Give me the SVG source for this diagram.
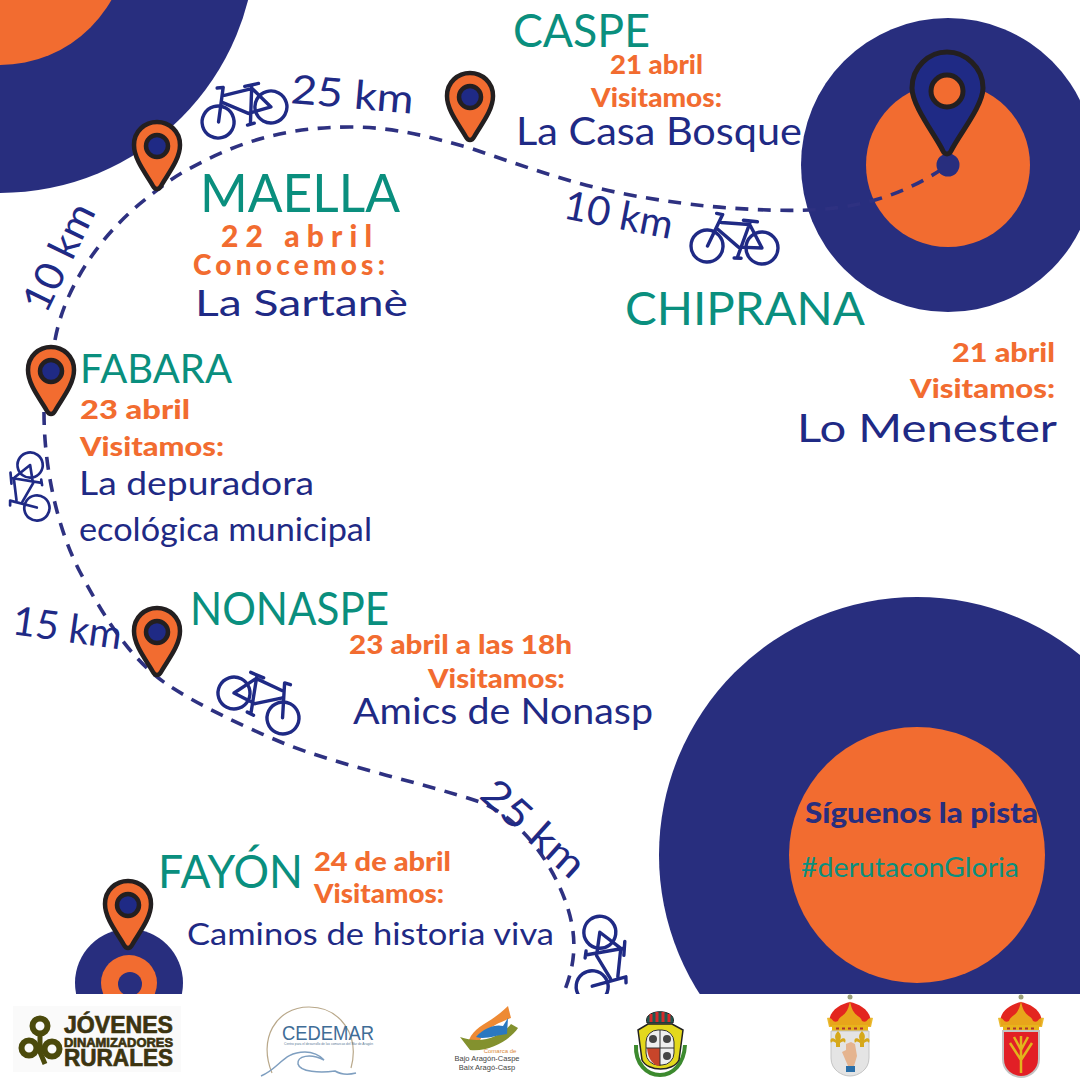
<svg xmlns="http://www.w3.org/2000/svg" width="1080" height="1080" viewBox="0 0 1080 1080">
<style>
.navy{fill:#282e7e}.org{fill:#f26c30}
.route{fill:none;stroke:#2e3181;stroke-width:3.6;stroke-dasharray:13 9.5}
.hand{font-family:"Lato","Open Sans",sans-serif;fill:#1f2a85}
.city{font-family:"Lato","Open Sans",sans-serif;fill:#0a8f7e}
.date{font-family:"Lato","Liberation Sans",sans-serif;font-weight:900;fill:#f26c30;font-size:27px}
.pin{fill:#f26c30;stroke:#231f20;stroke-width:4.5;stroke-linejoin:round}
.eye{fill:#1f2a85;stroke:#231f20;stroke-width:4.5}
.bk{fill:none;stroke:#1f2a85;stroke-width:3.4;stroke-linecap:round;stroke-linejoin:round}
.crown{fill:#e8b41b}.red{fill:#e3261f}.logo{font-family:"Liberation Sans",sans-serif}
</style>
<defs>
<g id="bike" class="bk">
<circle cx="-27.5" cy="0" r="16"/><circle cx="27.5" cy="0" r="16"/>
<path d="M-27 0L-13 -32L-19 -33M-14 -24L14 -23M-17 -17L4 0M3 11L15 -26M8 -27L22 -26M4 0L27.500 0L15 -22M0 11L7 11"/>
</g>
<g id="pinShape"><path class="pin" d="M-4 31C-10 20 -23 5 -23 -10C-23 -24 -12 -33 0 -33C12 -33 23 -24 23 -10C23 5 10 20 4 31C2 35 -2 35 -4 31Z"/><circle class="eye" cx="0" cy="-9" r="11"/></g>
<g id="fleur"><path d="M0 -9C4 -5 3 -2 2 0C5 -3 9 -2 7 3C6 1 4 1 2 3V7H-2V3C-4 1 -6 1 -7 3C-9 -2 -5 -3 -2 0C-3 -2 -4 -5 0 -9Z" fill="#d6a81a"/></g>
<g id="crownShape"><path class="red" d="M-20 16C-24 2 -10 -6 0 -8C10 -6 24 2 20 16Z"/><path class="crown" d="M-21 17L-23 8C-17 6 -18 14 -12 11C-10 4 -3 8 0 -9C3 8 10 4 12 11C18 14 17 6 23 8L21 17Z" opacity=".9"/><rect class="crown" x="-18" y="15" width="36" height="7"/><circle cx="0" cy="-13" r="2.500" fill="#9aa07a"/><path d="M-14 18.500H14" stroke="#a33" stroke-width="2" stroke-dasharray="3 3"/></g>
</defs>
<rect width="1080" height="1080" fill="#fff"/>
<circle class="navy" cx="0" cy="-63" r="256"/>
<circle class="org" cx="0" cy="-63" r="128"/>
<circle class="navy" cx="948" cy="165" r="147"/>
<circle class="org" cx="948" cy="165" r="82"/>
<circle class="navy" cx="917" cy="855" r="258"/>
<circle class="org" cx="917" cy="855" r="128"/>
<circle class="navy" cx="129" cy="983" r="54"/>
<circle class="org" cx="129" cy="983" r="28"/>
<circle class="navy" cx="130" cy="984" r="12"/>
<g id="connectors">
<path class="route" d="M44 412C44 470 58 530 80 572C95 600 108 622 122 640C135 657 150 673 168 685C195 703 240 725 283 743C340 766 420 782 480 802C520 818 550 860 565 900C576 930 578 958 564 992"/>
<path class="route" d="M55 340C66 280 108 228 147 198C160 188 172 178 187 170C232 145 280 127 350 127C395 127 430 137 470 148C520 165 570 183 620 193C660 201 700 206 730 208C760 210 785 211 810 210C860 208 905 195 948 165"/>
</g>
<circle class="navy" cx="948" cy="165" r="11.500"/>
<use href="#bike" transform="translate(244.5 114.500) rotate(-16)"/>
<use href="#bike" transform="translate(734.5 247) rotate(2)"/>
<use href="#bike" transform="translate(33.5 486.500) rotate(-99) scale(.79)"/>
<use href="#bike" transform="translate(258.5 705.500) rotate(27) scale(-1 1)"/>
<use href="#bike" transform="translate(596 959.500) rotate(-82) scale(1 -1)"/>
<g id="node-maella"><use href="#pinShape" transform="translate(157 155)"/>
<text class="city" x="200" y="212" font-size="53" textLength="200" lengthAdjust="spacingAndGlyphs">MAELLA</text>
<text class="date" x="221" y="247" style="font-size:30px" textLength="151">22 abril</text>
<text class="date" x="193" y="275" style="font-size:28px" textLength="192">Conocemos:</text>
<text class="hand" x="195" y="316" font-size="36" textLength="213" lengthAdjust="spacingAndGlyphs">La Sartanè</text></g>
<g id="node-caspe"><use href="#pinShape" transform="translate(470 106)"/>
<text class="city" x="513" y="47" font-size="46" textLength="137" lengthAdjust="spacingAndGlyphs">CASPE</text>
<text class="date" x="610" y="74" textLength="93" lengthAdjust="spacingAndGlyphs">21 abril</text>
<text class="date" x="591" y="107" textLength="131" lengthAdjust="spacingAndGlyphs">Visitamos:</text>
<text class="hand" x="516" y="145" font-size="38" textLength="286" lengthAdjust="spacingAndGlyphs">La Casa Bosque</text></g>
<g id="node-chiprana"><path style="fill:#1f2a85;stroke:#231f20;stroke-width:5;stroke-linejoin:round" d="M943 151C936 136 912 106 912 88C912 67 929 52 947 52C965 52 983 67 983 88C983 106 958 136 951 151C949 155 945 155 943 151Z"/><circle class="org" style="stroke:#231f20;stroke-width:5" cx="947" cy="91" r="16"/>
<text class="city" x="625" y="325" font-size="46" textLength="240" lengthAdjust="spacingAndGlyphs">CHIPRANA</text>
<text class="date" x="952" y="362" textLength="103" lengthAdjust="spacingAndGlyphs">21 abril</text>
<text class="date" x="910" y="398" textLength="145" lengthAdjust="spacingAndGlyphs">Visitamos:</text>
<text class="hand" x="797" y="442" font-size="38" textLength="260" lengthAdjust="spacingAndGlyphs">Lo Menester</text></g>
<g id="node-fabara"><use href="#pinShape" transform="translate(51 380)"/>
<text class="city" x="80" y="383" font-size="41" textLength="152" lengthAdjust="spacingAndGlyphs">FABARA</text>
<text class="date" x="80" y="419" textLength="110" lengthAdjust="spacingAndGlyphs">23 abril</text>
<text class="date" x="80" y="456" textLength="144" lengthAdjust="spacingAndGlyphs">Visitamos:</text>
<text class="hand" x="79" y="495" font-size="33" textLength="235" lengthAdjust="spacingAndGlyphs">La depuradora</text>
<text class="hand" x="79" y="541" font-size="33" textLength="293" lengthAdjust="spacingAndGlyphs">ecológica municipal</text></g>
<g id="node-nonaspe"><use href="#pinShape" transform="translate(157 641)"/>
<text class="city" x="190" y="625" font-size="46" textLength="199" lengthAdjust="spacingAndGlyphs">NONASPE</text>
<text class="date" x="349" y="654" textLength="223" lengthAdjust="spacingAndGlyphs">23 abril a las 18h</text>
<text class="date" x="428" y="688" textLength="137" lengthAdjust="spacingAndGlyphs">Visitamos:</text>
<text class="hand" x="353" y="724" font-size="36" textLength="300" lengthAdjust="spacingAndGlyphs">Amics de Nonasp</text></g>
<g id="node-fayon"><use href="#pinShape" transform="translate(128 914)"/>
<text class="city" x="158" y="888" font-size="47" textLength="145" lengthAdjust="spacingAndGlyphs">FAYÓN</text>
<text class="date" x="314" y="871" textLength="137" lengthAdjust="spacingAndGlyphs">24 de abril</text>
<text class="date" x="314" y="903" textLength="130" lengthAdjust="spacingAndGlyphs">Visitamos:</text>
<text class="hand" x="187" y="945" font-size="30" textLength="367" lengthAdjust="spacingAndGlyphs">Caminos de historia viva</text></g>
<g id="distances" class="hand" font-size="40">
<text x="290" y="103" transform="rotate(5 290 103)" textLength="123" lengthAdjust="spacingAndGlyphs">25 km</text>
<text x="562" y="218" transform="rotate(11 562 218)" textLength="110" lengthAdjust="spacingAndGlyphs">10 km</text>
<text x="46" y="315" transform="rotate(-64 46 315)" textLength="115" lengthAdjust="spacingAndGlyphs">10 km</text>
<text x="11" y="634" transform="rotate(8 11 634)" textLength="110" lengthAdjust="spacingAndGlyphs">15 km</text>
<text x="478" y="797" transform="rotate(42 478 797)" textLength="125" lengthAdjust="spacingAndGlyphs">25 km</text>
</g>
<g id="cta">
<text x="805" y="823" font-family="Lato,sans-serif" font-weight="900" font-size="28" fill="#282e7e" textLength="233" lengthAdjust="spacingAndGlyphs">Síguenos la pista</text>
<text x="801" y="877" font-family="Lato,sans-serif" font-size="26" fill="#0a8f7e" textLength="218" lengthAdjust="spacingAndGlyphs">#derutaconGloria</text>
</g>
<rect x="0" y="994" width="1080" height="86" fill="#fff"/>
<g id="logos">
<g id="logo-jdr"><rect x="13" y="1006" width="168" height="66" fill="#fafafa"/>
<g fill="none" stroke="#4b4a0c" stroke-width="6"><circle cx="40" cy="1026" r="7.500"/><circle cx="29" cy="1048" r="7.500"/><circle cx="52" cy="1049" r="7.500"/></g><path d="M40 1036V1052L45 1064" fill="none" stroke="#4b4a0c" stroke-width="5"/>
<g class="logo" font-weight="700" fill="#3c3410" stroke="#3c3410" stroke-width=".7">
<text x="64" y="1033" font-size="23" textLength="109" lengthAdjust="spacingAndGlyphs">JÓVENES</text>
<text x="64" y="1046.500" font-size="13" textLength="109" lengthAdjust="spacingAndGlyphs">DINAMIZADORES</text>
<text x="64" y="1066" font-size="23" textLength="109" lengthAdjust="spacingAndGlyphs">RURALES</text></g></g>
<g id="logo-cedemar"><path d="M272 1073C258 1040 275 1007 309 1007C340 1007 360 1035 351 1068" fill="none" stroke="#b9a88a" stroke-width="1.200"/>
<text class="logo" x="282" y="1040" font-size="20" fill="#3f6d97" textLength="92" lengthAdjust="spacingAndGlyphs">CEDEMAR</text>
<text class="logo" x="284" y="1045" font-size="3.500" fill="#5a7a98" textLength="89" lengthAdjust="spacingAndGlyphs">Centro para el desarrollo de las comarcas del Mar de Aragón</text>
<path d="M261 1076C280 1068 283 1052 305 1052C312 1052 320 1055 324 1060C310 1053 297 1056 298 1064C300 1072 320 1073 335 1071C340 1074 348 1075 356 1073" fill="none" stroke="#7f9fc0" stroke-width="1.500"/></g>
<g id="logo-comarca"><path d="M469 1040C475 1025 490 1024 508 1006L511 1018C495 1024 482 1030 478 1046Z" fill="#ee8a34"/>
<path d="M460 1037L470 1050C490 1052 510 1040 518 1028L511 1024C500 1038 480 1044 460 1037Z" fill="#83912e"/>
<path d="M476 1037C484 1028 495 1024 503 1026L508 1018L507 1034C497 1035 485 1040 476 1037Z" fill="#2a78c0"/>
<g class="logo" fill="#444" text-anchor="middle"><text x="500" y="1053" font-size="6" fill="#d98a3a">Comarca de</text><text x="487" y="1061" font-size="7.500">Bajo Aragón-Caspe</text><text x="487" y="1070" font-size="7.500">Baix Aragó-Casp</text></g></g>
<g id="crest1"><path d="M636 1045C635 1064 647 1075 660 1075C673 1075 684 1064 685 1045" fill="none" stroke="#3c8a2e" stroke-width="4"/><path d="M638 1030L648 1024H672L683 1030L679 1060C673 1072 648 1072 642 1060Z" fill="#e3d81d" stroke="#222" stroke-width="1.500"/><rect x="646" y="1030" width="28" height="35" rx="12" fill="#eee" stroke="#333"/><path d="M647 1048H660V1066C654 1066 648 1060 647 1048Z" fill="#c8452a"/><path d="M660 1030V1066M646 1048H674" stroke="#333"/><circle cx="653" cy="1039" r="4" fill="#444"/><circle cx="667" cy="1039" r="4" fill="#444"/><circle cx="667" cy="1056" r="4" fill="#444"/><path d="M647 1023C642 1008 678 1008 673 1023Z" fill="#1f5b52" stroke="#222"/><path d="M651 1022V1014M657 1022V1012M663 1022V1012M669 1022V1014" stroke="#d62a2a" stroke-width="3"/></g>
<g id="crest2"><use href="#crownShape" transform="translate(850 1010)"/><path d="M831 1031H869V1058C869 1070 858 1076 850 1076C842 1076 831 1070 831 1058Z" fill="#e4e4e4" stroke="#c4c4c4"/><use href="#fleur" transform="translate(838 1040)"/><use href="#fleur" transform="translate(862 1040)"/><path d="M848 1066L842 1052L846 1050L846 1044L851 1042L855 1044L857 1056L854 1066Z" fill="#e5b48f"/><rect x="846" y="1066" width="9" height="6" fill="#2a6fa8"/></g>
<g id="crest3"><use href="#crownShape" transform="translate(1021 1010)"/><path d="M1003 1031H1039V1059C1039 1071 1029 1077 1021 1077C1013 1077 1003 1071 1003 1059Z" fill="#e21f26" stroke="#c4c4c4" stroke-width="2"/><path d="M1021 1073V1036M1021 1060L1010 1043M1021 1060L1032 1043M1021 1050L1014 1037M1021 1050L1028 1037" stroke="#e2b41c" stroke-width="2.500" fill="none"/></g>
</g>
</svg>
